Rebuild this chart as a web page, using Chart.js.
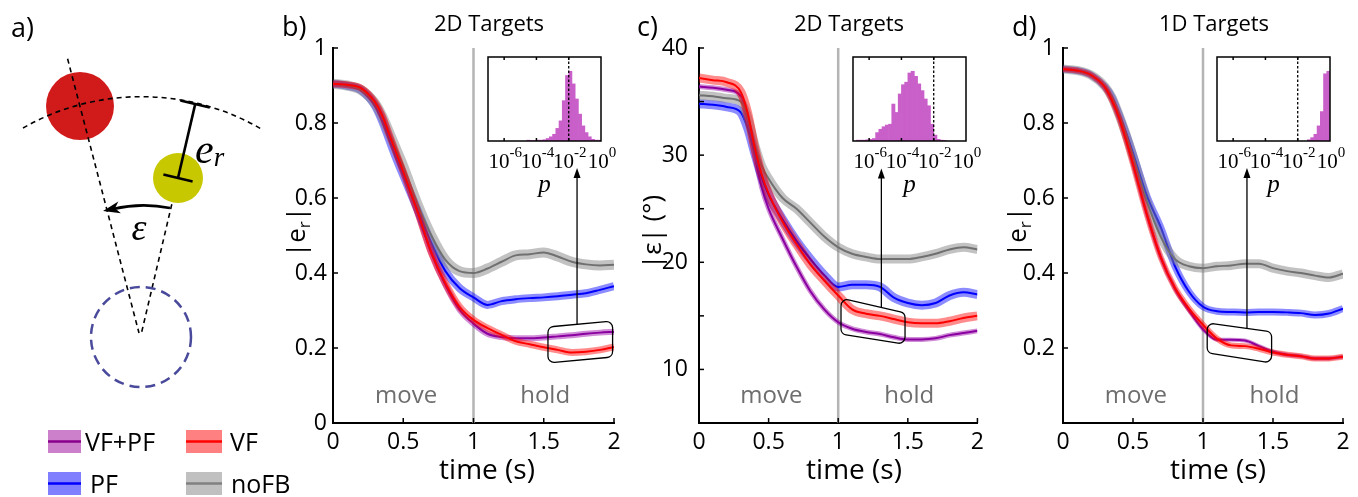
<!DOCTYPE html>
<html lang="en">
<head>
<meta charset="UTF-8" />
<title>Radial and angular error over time</title>
<script src="https://cdn.jsdelivr.net/npm/chart.js"></script>
<style>
  body { margin: 0; background: #fff; }
  #fig { position: relative; width: 1358px; height: 497px; overflow: hidden; font-family: 'Open Sans', sans-serif; }
  #fig canvas { position: absolute; }
  #overlay { position: absolute; left: 0; top: 0; pointer-events: none; }
</style>
</head>
<body>
<div id="fig">
  <canvas id="chartB" width="350" height="497" style="left:280px;top:0"></canvas>
  <canvas id="chartC" width="350" height="497" style="left:640px;top:0"></canvas>
  <canvas id="chartD" width="358" height="497" style="left:1000px;top:0"></canvas>
  <canvas id="insetB" width="159" height="170" style="left:468px;top:40px"></canvas>
  <canvas id="insetC" width="159" height="170" style="left:833px;top:40px"></canvas>
  <canvas id="insetD" width="159" height="170" style="left:1197px;top:40px"></canvas>

  <svg id="overlay" width="1358" height="497" font-family="'Open Sans', sans-serif">
    <!-- panel a: schematic -->
    <g fill="none" stroke="#000" stroke-width="1.6" stroke-dasharray="5 4">
      <line x1="178" y1="178" x2="141" y2="335" />
    </g>
    <circle cx="178" cy="178" r="25" fill="#c8c800" />
    <circle cx="80" cy="106" r="34" fill="#d11a1a" />
    <g fill="none" stroke="#000" stroke-width="1.6" stroke-dasharray="5 4">
      <path d="M 23 128 A 239 239 0 0 1 263 130" />
      <line x1="67.6" y1="58.8" x2="139" y2="333" />
    </g>
    <circle cx="141" cy="337" r="50" fill="none" stroke="#4a4a9c" stroke-width="2.5" stroke-dasharray="10 6" />
    <g stroke="#000" stroke-width="2.6" fill="none">
      <line x1="195.2" y1="104.1" x2="178" y2="178" />
      <line x1="180.4" y1="100.6" x2="209.8" y2="107.5" />
      <line x1="163.4" y1="174.6" x2="192.6" y2="181.4" />
      <path d="M 170 208 A 132 132 0 0 0 113 209" stroke-width="2.8" />
    </g>
    <polygon points="103,211 118.3,201.4 115,208.2 120.9,213.2" fill="#000" />
    <text x="195" y="163" font-family="'Liberation Serif', serif" font-style="italic" font-size="42">e<tspan font-size="27" dy="3">r</tspan></text>
    <text x="139" y="240" text-anchor="middle" font-family="'Liberation Serif', serif" font-style="italic" font-size="38">ε</text>

    <!-- legend -->
    <rect x="48" y="430" width="33" height="23" fill="#cc80cc" />
    <line x1="48" y1="441.5" x2="81" y2="441.5" stroke="#8b008b" stroke-width="2.5" />
    <text x="85" y="451" font-size="25">VF+PF</text>
    <rect x="186" y="430" width="36" height="23" fill="#ff8080" />
    <line x1="186" y1="441.5" x2="222" y2="441.5" stroke="#ff0000" stroke-width="2.5" />
    <text x="230" y="451" font-size="25">VF</text>
    <rect x="48" y="472" width="33" height="23" fill="#8080ff" />
    <line x1="48" y1="483.5" x2="81" y2="483.5" stroke="#0000ff" stroke-width="2.5" />
    <text x="90" y="493" font-size="25">PF</text>
    <rect x="186" y="472" width="36" height="23" fill="#c0c0c0" />
    <line x1="186" y1="483.5" x2="222" y2="483.5" stroke="#808080" stroke-width="2.5" />
    <text x="231" y="493" font-size="25">noFB</text>

    <!-- panel labels and titles -->
    <g font-size="27">
      <text x="11" y="37">a)</text>
      <text x="282" y="36">b)</text>
      <text x="637" y="36">c)</text>
      <text x="1012" y="36">d)</text>
    </g>
    <g font-size="22" text-anchor="middle">
      <text x="489" y="31">2D Targets</text>
      <text x="849" y="31">2D Targets</text>
      <text x="1214" y="31">1D Targets</text>
    </g>
    <g font-size="28" text-anchor="middle">
      <text x="487" y="479">time (s)</text>
      <text x="854" y="479">time (s)</text>
      <text x="1218" y="479">time (s)</text>
    </g>
    <g font-size="26" text-anchor="middle">
      <text transform="translate(305,232) rotate(-90)">|e<tspan font-size="17" dy="5">r</tspan><tspan dy="-5">|</tspan></text>
      <text transform="translate(661,232) rotate(-90)">|ε| (°)</text>
      <text transform="translate(1026,232) rotate(-90)">|e<tspan font-size="17" dy="5">r</tspan><tspan dy="-5">|</tspan></text>
    </g>
  </svg>
</div>

<script>
  // time axis shared by all three panels (s)
  const timeS = [0, 0.1, 0.2, 0.3, 0.35, 0.4, 0.45, 0.5, 0.6, 0.7, 0.8, 0.9, 1.0, 1.1, 1.2, 1.3, 1.4, 1.5, 1.6, 1.7, 1.8, 1.9, 2.0];

  // b) 2D targets, |e_r|
  const bPurple = [0.905, 0.902, 0.893, 0.855, 0.82, 0.77, 0.72, 0.67, 0.563, 0.452, 0.368, 0.303, 0.265, 0.238, 0.229, 0.226, 0.226, 0.228, 0.231, 0.234, 0.238, 0.241, 0.243];
  const bRed    = [0.905, 0.902, 0.893, 0.855, 0.82, 0.77, 0.72, 0.67, 0.565, 0.455, 0.373, 0.31, 0.275, 0.253, 0.235, 0.218, 0.21, 0.202, 0.195, 0.188, 0.19, 0.195, 0.203];
  const bBlue   = [0.905, 0.899, 0.887, 0.845, 0.805, 0.755, 0.705, 0.66, 0.57, 0.48, 0.405, 0.36, 0.335, 0.315, 0.325, 0.33, 0.333, 0.335, 0.338, 0.342, 0.346, 0.355, 0.365];
  const bGray   = [0.905, 0.9, 0.888, 0.852, 0.818, 0.775, 0.73, 0.685, 0.585, 0.5, 0.435, 0.405, 0.4, 0.412, 0.43, 0.447, 0.45, 0.455, 0.444, 0.43, 0.423, 0.42, 0.422];

  // c) 2D targets, |epsilon| (deg)
  const cPurple = [36.4, 36.3, 36.1, 35.5, 33.3, 30.0, 27.0, 25.0, 22.2, 19.6, 17.3, 15.6, 14.4, 13.8, 13.5, 13.3, 13.0, 12.8, 12.8, 12.9, 13.2, 13.4, 13.6];
  const cRed    = [37.2, 37.0, 36.8, 35.9, 33.9, 30.7, 28.2, 26.4, 23.8, 21.7, 19.8, 18.3, 16.9, 15.6, 15.2, 15.0, 14.7, 14.4, 14.3, 14.3, 14.5, 14.8, 15.0];
  const cBlue   = [34.8, 34.7, 34.5, 34.0, 32.5, 30.2, 28.0, 26.3, 24.0, 22.0, 20.3, 18.8, 17.7, 17.9, 17.9, 17.7, 16.7, 16.2, 16.0, 16.2, 16.9, 17.2, 17.0];
  const cGray   = [35.6, 35.5, 35.3, 35.0, 33.5, 31.0, 29.0, 27.8, 26.0, 25.0, 23.7, 22.4, 21.4, 20.8, 20.5, 20.3, 20.3, 20.3, 20.5, 20.8, 21.2, 21.4, 21.2];

  // d) 1D targets, |e_r|
  const dPurple = [0.944, 0.94, 0.928, 0.895, 0.86, 0.815, 0.755, 0.69, 0.555, 0.44, 0.358, 0.3, 0.25, 0.222, 0.222, 0.22, 0.205, 0.19, 0.182, 0.178, 0.172, 0.172, 0.177];
  const dRed    = [0.944, 0.94, 0.928, 0.895, 0.86, 0.815, 0.755, 0.69, 0.555, 0.44, 0.36, 0.305, 0.262, 0.225, 0.207, 0.205, 0.198, 0.188, 0.182, 0.178, 0.172, 0.172, 0.177];
  const dBlue   = [0.944, 0.94, 0.928, 0.897, 0.87, 0.825, 0.775, 0.72, 0.605, 0.52, 0.418, 0.35, 0.31, 0.298, 0.296, 0.295, 0.296, 0.296, 0.295, 0.293, 0.288, 0.292, 0.305];
  const dGray   = [0.944, 0.94, 0.928, 0.897, 0.868, 0.822, 0.77, 0.712, 0.59, 0.495, 0.437, 0.418, 0.413, 0.418, 0.42, 0.425, 0.425, 0.413, 0.405, 0.4, 0.393, 0.388, 0.398];

  // inset histograms of p values: bin centres in log10(p), heights in % of the inset
  const bHistLogP = [-4.5, -4.3, -4.1, -3.9, -3.7, -3.5, -3.3, -3.1, -2.9, -2.7, -2.5, -2.3, -2.1, -1.9, -1.7, -1.5, -1.3, -1.1, -0.9, -0.7, -0.5, -0.3, -0.1];
  const bHistPct  = [1, 0.5, 0.5, 1, 1, 1.5, 3, 5, 8, 15, 24, 48, 78, 83, 68, 50, 32, 18, 10, 5, 2, 1, 1];
  const cHistLogP = [-6.7, -6.5, -6.3, -6.1, -5.9, -5.7, -5.5, -5.3, -5.1, -4.9, -4.7, -4.5, -4.3, -4.1, -3.9, -3.7, -3.5, -3.3, -3.1, -2.9, -2.7, -2.5, -2.3, -2.1, -1.9, -1.7, -1.5, -1.3];
  const cHistPct  = [1, 1, 1, 1.5, 2, 3, 10, 14, 17, 19, 20, 44, 34, 56, 67, 70, 81, 83, 77, 68, 60, 50, 42, 20, 7, 2, 1, 0.5];
  const dHistLogP = [-1.3, -1.1, -0.9, -0.7, -0.5, -0.3, -0.1];
  const dHistPct  = [1.5, 4, 8, 18, 35, 80, 83];

  const insetExponents = [-6, -4, -2, 0];
  const pThresholdLog = -2;
  const phaseLabels = ['move', 'hold'];
  const phaseLabelT = [0.52, 1.51];
  const phaseSplitT = 1;

  Chart.defaults.font.family = "'Open Sans', sans-serif";
  Chart.defaults.color = '#000';

  const colors = {
    purple: { line: '#8a00a0', band: 'rgba(150, 0, 165, 0.45)' },
    red:    { line: '#ff0000', band: 'rgba(255, 0, 0, 0.45)' },
    blue:   { line: '#0000ff', band: 'rgba(0, 0, 255, 0.45)' },
    gray:   { line: '#707070', band: 'rgba(128, 128, 128, 0.48)' }
  };

  // each condition = a wide translucent band (s.e.) under a thin mean line
  function series(vals, c, bandW, order) {
    const pts = () => timeS.map((t, i) => ({ x: t, y: vals[i] }));
    return [
      { data: pts(), borderColor: c.band, borderWidth: bandW, order: order + 1 },
      { data: pts(), borderColor: c.line, borderWidth: 2, order: order }
    ];
  }

  function strokeLine(ctx, x1, y1, x2, y2) {
    ctx.beginPath(); ctx.moveTo(x1, y1); ctx.lineTo(x2, y2); ctx.stroke();
  }

  function makeDecor(cfg) {
    return {
      id: 'panelDecor',
      beforeDatasetsDraw(chart) {
        const { ctx, chartArea: a, scales: { x } } = chart;
        ctx.save();
        const xd = x.getPixelForValue(phaseSplitT);
        ctx.strokeStyle = '#b4b4b4';
        ctx.lineWidth = 2.5;
        strokeLine(ctx, xd, a.top, xd, a.bottom);
        ctx.font = "24px 'Open Sans'";
        ctx.fillStyle = '#6e6e6e';
        ctx.textAlign = 'center';
        phaseLabels.forEach((txt, i) => ctx.fillText(txt, x.getPixelForValue(phaseLabelT[i]), a.bottom - 20));
        ctx.restore();
      },
      afterDatasetsDraw(chart) {
        const { ctx, scales: { x, y } } = chart;
        ctx.save();
        ctx.strokeStyle = '#000';
        ctx.lineWidth = 1.3;
        // rounded box around the compared stretch
        const p = cfg.box.map(([t, v]) => ({ x: x.getPixelForValue(t), y: y.getPixelForValue(v) }));
        ctx.beginPath();
        ctx.moveTo((p[3].x + p[0].x) / 2, (p[3].y + p[0].y) / 2);
        for (let i = 0; i < 4; i++) {
          const q = p[(i + 1) % 4];
          ctx.arcTo(p[i].x, p[i].y, q.x, q.y, 6);
        }
        ctx.closePath();
        ctx.stroke();
        // arrow up to the inset
        const ax = x.getPixelForValue(cfg.arrow.t);
        const y0 = y.getPixelForValue(cfg.arrow.from);
        const y1 = y.getPixelForValue(cfg.arrow.to);
        strokeLine(ctx, ax, y0, ax, y1 + 8);
        ctx.fillStyle = '#000';
        ctx.beginPath();
        ctx.moveTo(ax, y1); ctx.lineTo(ax - 3.5, y1 + 10); ctx.lineTo(ax + 3.5, y1 + 10);
        ctx.closePath(); ctx.fill();
        ctx.restore();
      },
      afterDraw(chart) {
        // matlab style ticks pointing into the plot
        const { ctx, chartArea: a, scales: { x, y } } = chart;
        ctx.save();
        ctx.strokeStyle = '#000';
        ctx.lineWidth = 1.5;
        x.ticks.forEach(t => { const px = x.getPixelForValue(t.value); strokeLine(ctx, px, a.bottom, px, a.bottom - 5); });
        y.ticks.forEach(t => { const py = y.getPixelForValue(t.value); strokeLine(ctx, a.left, py, a.left + 5, py); });
        ctx.restore();
      }
    };
  }

  const fmt = v => String(+Number(v).toFixed(2));

  function mainChart(id, cfg) {
    const axisStyle = {
      grid: { display: true, drawOnChartArea: false, drawTicks: false },
      border: { color: '#000', width: 2 }
    };
    new Chart(document.getElementById(id), {
      type: 'line',
      data: {
        datasets: [
          ...series(cfg.red, colors.red, cfg.bands[1], 1),
          ...series(cfg.gray, colors.gray, cfg.bands[3], 3),
          ...series(cfg.blue, colors.blue, cfg.bands[2], 5),
          ...series(cfg.purple, colors.purple, cfg.bands[0], 7)
        ]
      },
      options: {
        responsive: false,
        animation: false,
        layout: { padding: { top: 48, right: cfg.padRight, bottom: 0, left: 0 } },
        elements: { point: { radius: 0 }, line: { cubicInterpolationMode: 'monotone' } },
        scales: {
          x: {
            type: 'linear', min: 0, max: 2,
            ticks: { stepSize: 0.5, padding: 6, font: { size: 23 }, maxRotation: 0, callback: v => fmt(v) },
            ...axisStyle,
            afterFit: s => { s.height = 74; }
          },
          y: {
            min: cfg.yMin, max: cfg.yMax,
            ticks: { stepSize: cfg.yStep, padding: cfg.yPad, font: { size: 23 }, callback: cfg.yLabel },
            ...axisStyle,
            afterFit: s => { s.width = cfg.axisLeft; }
          }
        },
        plugins: { legend: { display: false }, tooltip: { enabled: false } }
      },
      plugins: [makeDecor(cfg)]
    });
  }

  const insetDecor = {
    id: 'insetDecor',
    afterDatasetsDraw(chart) {
      const { ctx, chartArea: a, scales: { x } } = chart;
      ctx.save();
      ctx.strokeStyle = '#000';
      const xs = x.getPixelForValue(pThresholdLog);
      ctx.setLineDash([2.5, 2]);
      ctx.lineWidth = 1.3;
      strokeLine(ctx, xs, a.top, xs, a.bottom);
      ctx.setLineDash([]);
      ctx.lineWidth = 1.5;
      ctx.strokeRect(a.left, a.top, a.right - a.left, a.bottom - a.top);
      ctx.fillStyle = '#000';
      ctx.textBaseline = 'alphabetic';
      insetExponents.forEach(e => {
        const px = x.getPixelForValue(e);
        if (e > x.min && e < x.max) {
          strokeLine(ctx, px, a.top, px, a.top + 3);
          strokeLine(ctx, px, a.bottom, px, a.bottom - 3);
        }
        ctx.font = "21px 'Liberation Serif'";
        const wBase = ctx.measureText('10').width;
        ctx.font = "15px 'Liberation Serif'";
        const sup = String(e);
        const wSup = ctx.measureText(sup).width;
        const x0 = px - (wBase + wSup) / 2 + 1;
        ctx.font = "21px 'Liberation Serif'";
        ctx.textAlign = 'left';
        ctx.fillText('10', x0, a.bottom + 27);
        ctx.font = "15px 'Liberation Serif'";
        ctx.fillText(sup, x0 + wBase, a.bottom + 16);
      });
      ctx.font = "italic 25px 'Liberation Serif'";
      ctx.textAlign = 'center';
      ctx.fillText('p', (a.left + a.right) / 2, a.bottom + 51);
      ctx.restore();
    }
  };

  function insetChart(id, logP, pct) {
    new Chart(document.getElementById(id), {
      type: 'bar',
      data: {
        datasets: [{
          data: logP.map((v, i) => ({ x: v, y: pct[i] })),
          backgroundColor: '#c95fc9',
          borderWidth: 0,
          barPercentage: 1,
          categoryPercentage: 1
        }]
      },
      options: {
        responsive: false,
        animation: false,
        layout: { padding: { left: 20, top: 17, right: 26, bottom: 69 } },
        scales: {
          x: { type: 'linear', min: -7, max: 0, offset: false, display: false },
          y: { min: 0, max: 100, display: false }
        },
        plugins: { legend: { display: false }, tooltip: { enabled: false } }
      },
      plugins: [insetDecor]
    });
  }

  mainChart('chartB', {
    purple: bPurple, red: bRed, blue: bBlue, gray: bGray,
    bands: [6, 7, 8, 10],
    yMin: 0, yMax: 1, yStep: 0.2, yPad: 6, axisLeft: 53, padRight: 16,
    yLabel: v => fmt(v),
    box: [[1.53, 0.256], [1.99, 0.272], [1.99, 0.176], [1.53, 0.16]],
    arrow: { t: 1.737, from: 0.263, to: 0.68 }
  });

  mainChart('chartC', {
    purple: cPurple, red: cRed, blue: cBlue, gray: cGray,
    bands: [5, 9, 9, 9],
    yMin: 5, yMax: 40, yStep: 5, yPad: 11, axisLeft: 59, padRight: 10,
    yLabel: v => (v % 10 === 0 ? fmt(v) : ''),
    box: [[1.02, 16.66], [1.48, 15.26], [1.48, 12.35], [1.02, 13.29]],
    arrow: { t: 1.31, from: 15.78, to: 28.75 }
  });

  mainChart('chartD', {
    purple: dPurple, red: dRed, blue: dBlue, gray: dGray,
    bands: [4, 6, 7, 9],
    yMin: 0, yMax: 1, yStep: 0.2, yPad: 8, axisLeft: 63, padRight: 15,
    yLabel: v => (v === 0 ? '' : fmt(v)),
    box: [[1.03, 0.267], [1.49, 0.243], [1.49, 0.16], [1.03, 0.187]],
    arrow: { t: 1.314, from: 0.252, to: 0.68 }
  });

  insetChart('insetB', bHistLogP, bHistPct);
  insetChart('insetC', cHistLogP, cHistPct);
  insetChart('insetD', dHistLogP, dHistPct);
</script>
</body>
</html>
